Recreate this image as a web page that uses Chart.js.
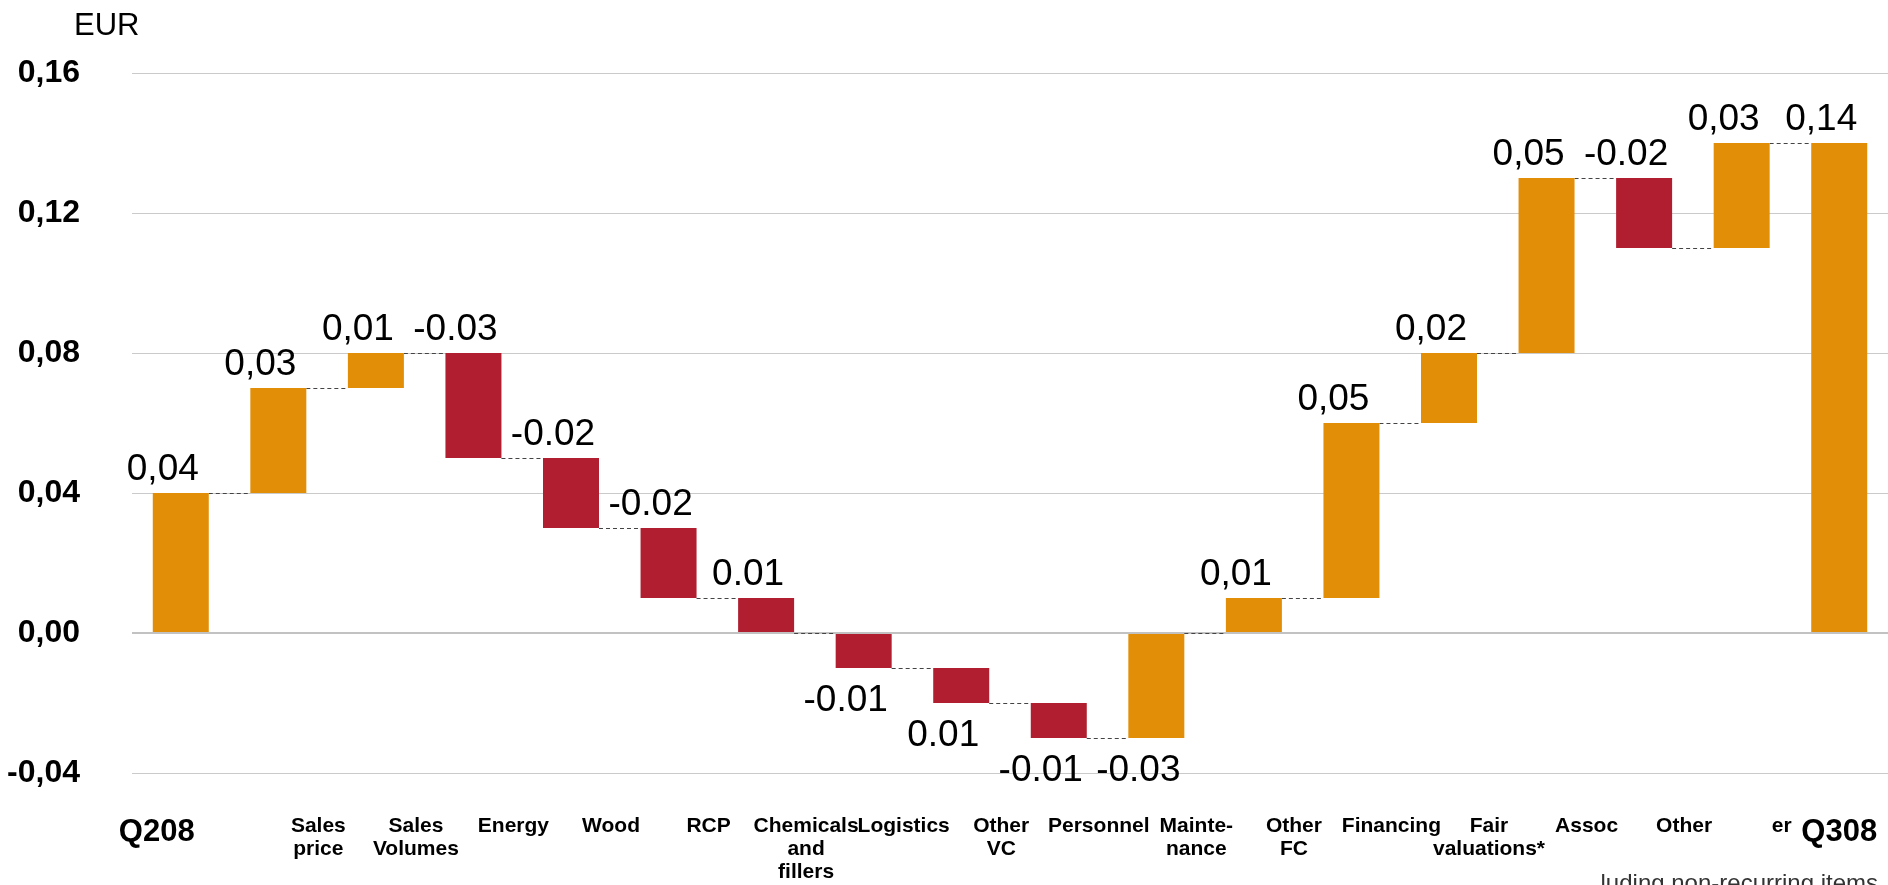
<!DOCTYPE html>
<html>
<head>
<meta charset="utf-8">
<script src="https://cdn.jsdelivr.net/npm/chart.js@4.4.1/dist/chart.umd.min.js"></script>
<style>
html, body { margin: 0; padding: 0; background: #fff; }
#wrap { width: 1888px; height: 885px; position: relative; }
</style>
</head>
<body>
<div id="wrap"><canvas id="canvas"></canvas></div>
<script>
// EPS bridge Q208 -> Q308, EUR
var categories = ['Q208', ['Sales', 'price'], ['Sales', 'Volumes'], 'Energy', 'Wood', 'RCP',
    ['Chemicals', 'and', 'fillers'], 'Logistics', ['Other', 'VC'], 'Personnel', ['Mainte-', 'nance'],
    ['Other', 'FC'], 'Financing', ['Fair', 'valuations*'], 'Assoc', 'Other', 'er', 'Q308'];
var openingValue = 0.04;
var steps = [0.03, 0.01, -0.03, -0.02, -0.02, -0.01, -0.01, -0.01, -0.01, 0.03, 0.01, 0.05, 0.02, 0.05, -0.02, 0.03];
var closingValue = 0.14;
var valueLabels = ['0,04', '0,03', '0,01', '-0.03', '-0.02', '-0.02', '0.01', '-0.01', '0.01', '-0.01',
    '-0.03', '0,01', '0,05', '0,02', '0,05', '-0.02', '0,03', '0,14'];
var yTickLabels = ['-0,04', '0,00', '0,04', '0,08', '0,12', '0,16'];
var unitLabel = 'EUR';
var footnote = 'luding non-recurring items';

var ORANGE = '#E38E07';
var RED = '#B01E2F';
var SANS = "'Liberation Sans', Arial, sans-serif";

// floating bars: totals start at zero, every step starts where the last one ended
var bars = [[0, openingValue]];
var level = openingValue;
steps.forEach(function(s) {
    var next = Math.round((level + s) * 100) / 100;
    bars.push([level, next]);
    level = next;
});
bars.push([0, closingValue]);

var lastIdx = bars.length - 1;
var barColors = bars.map(function(b, i) {
    if (i === 0 || i === lastIdx) return ORANGE;
    return b[1] >= b[0] ? ORANGE : RED;
});

var waterfallExtras = {
    id: 'waterfallExtras',
    beforeDatasetsDraw: function(chart) {
        // dashed connectors between consecutive bars
        var ctx = chart.ctx;
        var meta = chart.getDatasetMeta(0);
        var y = chart.scales.y;
        ctx.save();
        ctx.strokeStyle = '#444';
        ctx.lineWidth = 1;
        ctx.setLineDash([4, 3]);
        for (var i = 0; i < lastIdx; i++) {
            var a = meta.data[i], b = meta.data[i + 1];
            var py = Math.round(y.getPixelForValue(bars[i][1])) + 0.5;
            ctx.beginPath();
            ctx.moveTo(a.x + a.width / 2, py);
            ctx.lineTo(b.x - b.width / 2, py);
            ctx.stroke();
        }
        ctx.restore();
    },
    afterDatasetsDraw: function(chart) {
        var ctx = chart.ctx;
        var meta = chart.getDatasetMeta(0);
        var y = chart.scales.y;
        ctx.save();
        ctx.fillStyle = '#000';
        ctx.font = '37px ' + SANS;
        ctx.textAlign = 'center';
        ctx.textBaseline = 'alphabetic';
        bars.forEach(function(b, i) {
            var el = meta.data[i];
            var top = Math.max(b[0], b[1]);
            var bottom = Math.min(b[0], b[1]);
            var py = top > 0 ? y.getPixelForValue(top) - 13 : y.getPixelForValue(bottom) + 43;
            ctx.fillText(valueLabels[i], el.x - 18, py);
        });
        ctx.restore();
    },
    afterDraw: function(chart) {
        var ctx = chart.ctx;
        var meta = chart.getDatasetMeta(0);
        var area = chart.chartArea;
        ctx.save();
        ctx.fillStyle = '#000';
        ctx.textAlign = 'center';
        ctx.textBaseline = 'alphabetic';
        categories.forEach(function(cat, i) {
            var el = meta.data[i];
            var lines = Array.isArray(cat) ? cat : [cat];
            if (i === 0 || i === lastIdx) {
                ctx.font = 'bold 31px ' + SANS;
                ctx.fillText(lines[0], el.x - (i === 0 ? 24 : 0), area.bottom + 68);
            } else {
                ctx.font = 'bold 21px ' + SANS;
                lines.forEach(function(line, k) {
                    ctx.fillText(line, el.x + 40, area.bottom + 59 + k * 23);
                });
            }
        });

        ctx.font = '31px ' + SANS;
        ctx.textAlign = 'left';
        ctx.fillText(unitLabel, area.left - 58, area.top - 38);

        ctx.fillStyle = '#333';
        ctx.font = '24px ' + SANS;
        ctx.textAlign = 'right';
        ctx.fillText(footnote, area.right - 10, chart.height + 6);
        ctx.restore();
    }
};

window.onload = function() {
    var ctx = document.getElementById('canvas').getContext('2d');
    new Chart(ctx, {
        type: 'bar',
        data: {
            labels: categories,
            datasets: [{
                data: bars,
                backgroundColor: barColors,
                borderWidth: 0,
                barPercentage: 0.574,
                categoryPercentage: 1
            }]
        },
        options: {
            responsive: true,
            maintainAspectRatio: false,
            animation: false,
            layout: { padding: { top: 73, bottom: 112, left: 0, right: 0 } },
            plugins: {
                legend: { display: false },
                tooltip: { enabled: false }
            },
            scales: {
                x: { display: false },
                y: {
                    min: -0.04,
                    max: 0.16,
                    afterFit: function(scale) { scale.width = 132; },
                    border: { display: false },
                    grid: {
                        drawTicks: false,
                        color: function(c) { return c.tick && Math.abs(c.tick.value) < 1e-9 ? '#c2c2c2' : '#cacaca'; },
                        lineWidth: function(c) { return c.tick && Math.abs(c.tick.value) < 1e-9 ? 2 : 1; }
                    },
                    ticks: {
                        stepSize: 0.04,
                        padding: 52,
                        color: '#000',
                        font: { family: SANS, size: 32, weight: 'bold' },
                        callback: function(v, i) { return yTickLabels[i]; }
                    }
                }
            }
        },
        plugins: [waterfallExtras]
    });
};
</script>
</body>
</html>
